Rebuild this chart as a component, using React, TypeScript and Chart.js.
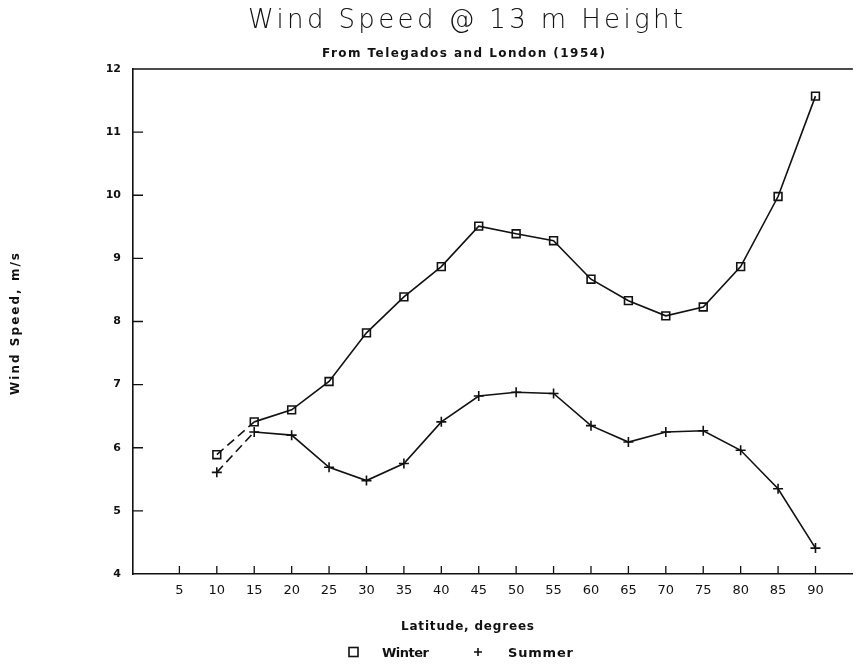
import { useEffect, useRef } from "react";
import { Chart, registerables } from "chart.js";

Chart.register(...registerables);

// Latitude (degrees) at which the mean wind speed was tabulated
const latitudes = [10, 15, 20, 25, 30, 35, 40, 45, 50, 55, 60, 65, 70, 75, 80, 85, 90];
// Mean wind speed at 13 m, m/s
const winterSpeed = [5.89, 6.41, 6.6, 7.05, 7.82, 8.39, 8.87, 9.51, 9.39, 9.28, 8.67, 8.33, 8.09, 8.23, 8.87, 9.98, 11.57];
const summerSpeed = [5.61, 6.25, 6.2, 5.69, 5.48, 5.75, 6.41, 6.82, 6.88, 6.86, 6.35, 6.09, 6.25, 6.27, 5.96, 5.35, 4.41];

const xTickValues = [5, 10, 15, 20, 25, 30, 35, 40, 45, 50, 55, 60, 65, 70, 75, 80, 85, 90];
const yTickValues = [4, 5, 6, 7, 8, 9, 10, 11, 12];

const chartTitle = "Wind Speed @ 13 m Height";
const chartSubtitle = "From Telegados and London (1954)";
const xAxisTitle = "Latitude, degrees";
const yAxisTitle = "Wind Speed, m/s";
const seriesNames = ["Winter", "Summer"];

const W = 860;
const H = 666;
const INK = "#111";
const FONT = '"DejaVu Sans", "Liberation Sans", sans-serif';
const TEXT_CX = 465;

// Draw text spanning a given width (starting at `left`) by spreading its letters.
function drawSpread(
  ctx: CanvasRenderingContext2D,
  text: string,
  left: number,
  baseline: number,
  font: string,
  width: number
) {
  ctx.save();
  ctx.font = font;
  (ctx as any).letterSpacing = "0px";
  const natural = ctx.measureText(text).width;
  const gap = text.length > 1 ? (width - natural) / (text.length - 1) : 0;
  (ctx as any).letterSpacing = `${gap}px`;
  ctx.textAlign = "left";
  ctx.textBaseline = "alphabetic";
  ctx.fillStyle = INK;
  ctx.fillText(text, left, baseline);
  ctx.restore();
}

const decorPlugin = {
  id: "decor",
  afterDraw(chart: any) {
    const { ctx, chartArea } = chart;
    const xs = chart.scales.x;
    const ys = chart.scales.y;

    ctx.save();
    ctx.strokeStyle = INK;
    ctx.lineWidth = 1.6;
    // top rule of the frame
    ctx.beginPath();
    ctx.moveTo(chartArea.left, chartArea.top);
    ctx.lineTo(chartArea.right, chartArea.top);
    ctx.stroke();

    // inward tick marks
    ctx.lineWidth = 1.3;
    ctx.beginPath();
    for (const v of yTickValues.slice(1, -1)) {
      const py = ys.getPixelForValue(v);
      ctx.moveTo(chartArea.left, py);
      ctx.lineTo(chartArea.left + 10, py);
    }
    for (const v of xTickValues) {
      const px = xs.getPixelForValue(v);
      ctx.moveTo(px, chartArea.bottom);
      ctx.lineTo(px, chartArea.bottom - 8);
    }
    ctx.stroke();
    ctx.restore();

    // headings
    drawSpread(ctx, chartTitle, TEXT_CX - 217, 28, `200 26px ${FONT}`, 435);
    drawSpread(ctx, chartSubtitle, TEXT_CX - 143, 57, `bold 12px ${FONT}`, 283);
    drawSpread(ctx, xAxisTitle, TEXT_CX - 64, 630, `bold 12px ${FONT}`, 133);

    // vertical axis title
    ctx.save();
    ctx.translate(19, 324);
    ctx.rotate(-Math.PI / 2);
    drawSpread(ctx, yAxisTitle, -71, 0, `bold 12px ${FONT}`, 142);
    ctx.restore();

    // legend
    const ly = 652;
    ctx.save();
    ctx.strokeStyle = INK;
    ctx.lineWidth = 1.6;
    ctx.strokeRect(TEXT_CX - 116, ly - 4.5, 9, 9);
    ctx.beginPath();
    const px = TEXT_CX + 13;
    ctx.moveTo(px - 4, ly);
    ctx.lineTo(px + 4, ly);
    ctx.moveTo(px, ly - 4);
    ctx.lineTo(px, ly + 4);
    ctx.stroke();
    ctx.restore();
    drawSpread(ctx, seriesNames[0], TEXT_CX - 83, 657, `bold 13px ${FONT}`, 47);
    drawSpread(ctx, seriesNames[1], TEXT_CX + 43, 657, `bold 13px ${FONT}`, 65);
  },
};

const firstSegmentDash = (ctx: any) => (ctx.p0DataIndex === 0 ? [9, 5] : undefined);

export default function App() {
  const canvasRef = useRef<HTMLCanvasElement | null>(null);

  useEffect(() => {
    const canvas = canvasRef.current;
    if (!canvas) return;
    const chart = new Chart(canvas, {
      type: "line",
      data: {
        datasets: [
          {
            label: seriesNames[0],
            data: latitudes.map((x, i) => ({ x, y: winterSpeed[i] })),
            borderColor: INK,
            borderWidth: 1.6,
            pointStyle: "rect",
            pointRadius: 5.5,
            pointBorderWidth: 1.6,
            pointBorderColor: INK,
            pointBackgroundColor: "rgba(0,0,0,0)",
            segment: { borderDash: firstSegmentDash },
          },
          {
            label: seriesNames[1],
            data: latitudes.map((x, i) => ({ x, y: summerSpeed[i] })),
            borderColor: INK,
            borderWidth: 1.6,
            pointStyle: "cross",
            pointRadius: 5,
            pointBorderWidth: 1.6,
            pointBorderColor: INK,
            pointBackgroundColor: INK,
            segment: { borderDash: firstSegmentDash },
          },
        ],
      },
      options: {
        responsive: false,
        animation: false,
        devicePixelRatio: 1,
        layout: { padding: { top: 69, left: 0, right: 0, bottom: 0 } },
        plugins: {
          legend: { display: false },
          title: { display: false },
          tooltip: { enabled: false },
        },
        scales: {
          x: {
            type: "linear",
            min: -1.2,
            max: 95,
            grid: { display: false, drawTicks: false },
            border: { display: true, color: INK, width: 1.6 },
            afterBuildTicks: (axis: any) => {
              axis.ticks = xTickValues.map((value) => ({ value }));
            },
            afterFit: (axis: any) => {
              axis.height = H - 574;
            },
            ticks: {
              padding: 9,
              color: INK,
              font: { family: FONT, size: 13 },
              maxRotation: 0,
              autoSkip: false,
            },
          },
          y: {
            type: "linear",
            min: 4,
            max: 12,
            grid: { display: false, drawTicks: false },
            border: { display: true, color: INK, width: 1.6 },
            afterBuildTicks: (axis: any) => {
              axis.ticks = yTickValues.map((value) => ({ value }));
            },
            afterFit: (axis: any) => {
              axis.width = 133;
            },
            ticks: {
              padding: 12,
              color: INK,
              font: { family: FONT, size: 11, weight: "bold" },
            },
          },
        },
      },
      plugins: [decorPlugin],
    });
    return () => chart.destroy();
  }, []);

  return (
    <div style={{ position: "absolute", left: 0, top: 0, width: W, height: H, background: "#fff" }}>
      <canvas ref={canvasRef} width={W} height={H} style={{ display: "block" }} />
    </div>
  );
}
